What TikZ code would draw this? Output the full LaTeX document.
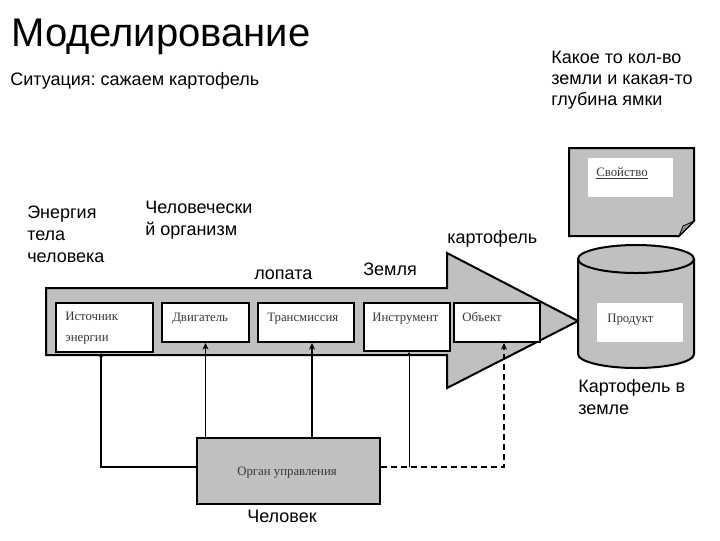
\documentclass[tikz,border=0pt]{standalone}
\usepackage{fontspec}
\setmainfont{Liberation Sans}
\newfontfamily\boxserif{Liberation Serif}
\usetikzlibrary{arrows.meta}
\definecolor{shapegray}{RGB}{192,192,192}
\definecolor{foldgray}{RGB}{150,150,150}
\definecolor{boxtext}{RGB}{55,55,55}
\frenchspacing
\begin{document}
\begin{tikzpicture}[x=0.75pt,y=-0.75pt,
  lbl/.style={font=\fontsize{13.5}{16.5}\selectfont, inner sep=0pt, align=left, anchor=base west},
  btxt/.style={font=\boxserif\fontsize{9.6}{15.75}\selectfont, text=boxtext, inner sep=0pt, align=left, anchor=base west},
  wbox/.style={draw, fill=white, line width=1.5pt, inner sep=0pt, anchor=north west},
  gshape/.style={draw, fill=shapegray, line width=1.5pt, line join=miter},
  ctl/.style={line width=1.4pt, -{Stealth[length=5pt,width=4.5pt]}},
  ctlsmall/.style={line width=1.4pt, -{Stealth[length=3pt,width=3pt]}},
  ctlthin/.style={line width=0.7pt, -{Stealth[length=3pt,width=3pt]}},
  ctldash/.style={line width=1.4pt, dash pattern=on 4.5pt off 3pt, -{Stealth[length=5pt,width=4.5pt]}}
]
\useasboundingbox (0,0) rectangle (720,540);

% big arrow
\path[gshape] (46,288) -- (447,288) -- (447,253) -- (578,321) -- (447,388) -- (447,355) -- (46,355) -- cycle;

% boxes inside the arrow
\node[wbox, minimum width=72.75pt, minimum height=36.75pt] (src) at (55,302) {};
\node[wbox, minimum width=65.25pt, minimum height=29.25pt] (dvig) at (161,302) {};
\node[wbox, minimum width=72pt, minimum height=29.25pt] (trans) at (257,302) {};
\node[wbox, minimum width=64.5pt, minimum height=36pt] (instr) at (363,302) {};
\node[wbox, minimum width=64.5pt, minimum height=29.25pt] (obj) at (453,302) {};

\node[btxt] (srct) at (65,341) {Источник\\энергии};
\node[btxt] (dvigt) at (172,321) {Двигатель};
\node[btxt] (transt) at (267,321) {Трансмиссия};
\node[btxt] (instrt) at (372,321) {Инструмент};
\node[btxt] (objt) at (462,321) {Объект};

% control organ
\node[wbox, fill=shapegray, minimum width=137.25pt, minimum height=49.5pt] (organ) at (196,437) {};
\node[btxt, anchor=base] (organt) at (287,475) {Орган управления};

% document shape
\path[gshape] (569,148) -- (694,148) -- (694,221) -- (679,236) -- (569,236) -- cycle;
\path[draw, fill=foldgray, line width=0.6pt] (679,236) -- (683,226) -- (694,221) -- cycle;
\node[fill=white, inner sep=0pt, anchor=north west, minimum width=63.75pt, minimum height=29.25pt] (propbox) at (588,158) {};
\node[btxt] (propt) at (596,176) {\underline{Свойство}};

% cylinder
\path[gshape] (578,259) -- (578,354) arc[start angle=180, end angle=0, x radius=58, y radius=14] -- (694,259);
\path[gshape] (636,259) ellipse [x radius=58, y radius=14];
\node[fill=white, inner sep=0pt, anchor=north west, minimum width=64.5pt, minimum height=29.25pt] (prodbox) at (597,303) {};
\node[btxt] (prodt) at (607,322) {Продукт};

% labels
\node[lbl, font=\fontsize{30}{36}\selectfont] (title) at (11,46.7) {Моделирование};
\node[lbl] (sit) at (10,85) {Ситуация: сажаем картофель};
\node[lbl, font=\fontsize{13.5}{15.75}\selectfont] (amount) at (551,105) {Какое то кол-во\\земли и какая-то\\глубина ямки};
\node[lbl] (energy) at (27,262) {Энергия\\тела\\человека};
\node[lbl] (organism) at (145,235) {Человечески\\й организм};
\node[lbl] (shovel) at (254,279) {лопата};
\node[lbl] (earth) at (363,275) {Земля};
\node[lbl] (potato) at (447,243) {картофель};
\node[lbl] (inground) at (578,414) {Картофель в\\земле};
\node[lbl] (human) at (247,522) {Человек};

% connectors
\coordinate (a1) at ([xshift=-2.6pt]src.south);
\coordinate (a3) at ([xshift=4.5pt]trans.south);
\coordinate (a4) at ([xshift=1.5pt]instr.south);
\coordinate (a5) at ([xshift=5.25pt]obj.south);
\coordinate (jl) at ([yshift=3pt]organ.west);
\coordinate (jr) at ([yshift=3pt]organ.east);

\draw[ctlsmall] (jl) -| (a1);
\draw[ctl] (dvig.south |- organ.north) -- (dvig.south);
\draw[ctl] (a3 |- organ.north) -- (a3);
\draw[ctlthin] (a4 |- jr) -- (a4);
\draw[ctldash] (jr) -| (a5);
\end{tikzpicture}
\end{document}
